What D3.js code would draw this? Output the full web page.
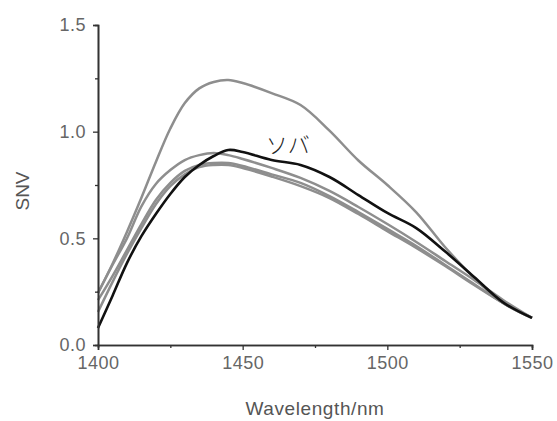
<!DOCTYPE html>
<html>
<head>
<meta charset="utf-8">
<script src="https://cdn.jsdelivr.net/npm/d3@7"></script>
<style>
  body { margin: 0; background: #fff; }
  svg text { font-family: "Liberation Sans", Arial, sans-serif; }
</style>
</head>
<body>
<div id="chart"></div>
<script>
var svgWidth = 557;
var svgHeight = 421;

var margin = { top: 25, right: 25, bottom: 76, left: 98 };
var width = svgWidth - margin.left - margin.right;
var height = svgHeight - margin.top - margin.bottom;

// wavelength (nm)
var wavelength = [1400, 1405, 1410, 1415, 1420, 1425, 1430, 1435, 1440, 1445, 1450,
  1460, 1470, 1480, 1490, 1500, 1510, 1520, 1530, 1540, 1550];

// SNV spectra
var grayA = [0.244, 0.38, 0.53, 0.69, 0.858, 1.015, 1.134, 1.203, 1.233, 1.242, 1.228,
  1.181, 1.125, 1.005, 0.865, 0.75, 0.622, 0.458, 0.315, 0.197, 0.127];
var grayB = [0.244, 0.375, 0.50, 0.65, 0.755, 0.82, 0.867, 0.89, 0.90, 0.89, 0.872,
  0.83, 0.783, 0.722, 0.647, 0.567, 0.483, 0.394, 0.305, 0.211, 0.127];
var grayC = [0.21, 0.323, 0.445, 0.567, 0.68, 0.76, 0.816, 0.844, 0.853, 0.853, 0.839,
  0.80, 0.76, 0.698, 0.623, 0.544, 0.464, 0.375, 0.286, 0.197, 0.127];
var grayD = [0.155, 0.295, 0.427, 0.548, 0.66, 0.745, 0.80, 0.834, 0.844, 0.844, 0.83,
  0.79, 0.745, 0.689, 0.614, 0.534, 0.455, 0.37, 0.281, 0.197, 0.127];
var soba = [0.08, 0.23, 0.384, 0.51, 0.614, 0.708, 0.7875, 0.844, 0.886, 0.914, 0.905,
  0.867, 0.844, 0.7875, 0.703, 0.619, 0.548, 0.438, 0.319, 0.2, 0.127];

var xTicks = [1400, 1450, 1500, 1550];
var xMinor = [1425, 1475, 1525];
var yTicks = [0, 0.5, 1.0, 1.5];
var yMinor = [0.25, 0.75, 1.25];

var svg = d3.select("#chart")
  .append("svg")
  .attr("width", svgWidth)
  .attr("height", svgHeight);

var chartGroup = svg.append("g")
  .attr("transform", `translate(${margin.left}, ${margin.top})`);

var xScale = d3.scaleLinear().domain([1400, 1550]).range([0, width]);
var yScale = d3.scaleLinear().domain([0, 1.5]).range([height, 0]);

var line = d3.line()
  .x((d, i) => xScale(wavelength[i]))
  .y(d => yScale(d))
  .curve(d3.curveCatmullRom);

[grayA, grayB, grayC, grayD].forEach(function(s) {
  chartGroup.append("path")
    .attr("d", line(s))
    .attr("fill", "none")
    .attr("stroke", "#8e8e8e")
    .attr("stroke-width", 2.5);
});

chartGroup.append("path")
  .attr("d", line(soba))
  .attr("fill", "none")
  .attr("stroke", "#111")
  .attr("stroke-width", 2.6);

// axes
var bottomAxis = d3.axisBottom(xScale).tickValues(xTicks).tickSize(5).tickPadding(6).tickFormat(d3.format("d"));
var leftAxis = d3.axisLeft(yScale).tickValues(yTicks).tickSize(5).tickPadding(7).tickFormat(d3.format(".1f"));

chartGroup.append("g").attr("transform", `translate(0, ${height})`).call(bottomAxis);
chartGroup.append("g").call(leftAxis);

chartGroup.append("g").attr("transform", `translate(0, ${height})`)
  .call(d3.axisBottom(xScale).tickValues(xMinor).tickSize(3).tickFormat(""));
chartGroup.append("g")
  .call(d3.axisLeft(yScale).tickValues(yMinor).tickSize(3).tickFormat(""));

chartGroup.selectAll(".domain").attr("stroke", "#333").attr("stroke-width", 1.6);
chartGroup.selectAll(".tick line").attr("stroke", "#333").attr("stroke-width", 1.3);
chartGroup.selectAll(".tick text")
  .attr("fill", "#666")
  .style("font-size", "18px")
  .style("letter-spacing", "0.5px")
  .style("font-family", "Liberation Sans, Arial, sans-serif");

// labels
chartGroup.append("text")
  .attr("x", width / 2)
  .attr("y", height + 70)
  .attr("text-anchor", "middle")
  .attr("fill", "#555")
  .style("font-size", "19px")
  .style("letter-spacing", "0.6px")
  .text("Wavelength/nm");

chartGroup.append("text")
  .attr("transform", `translate(-69, 166)rotate(-90)`)
  .attr("text-anchor", "middle")
  .attr("fill", "#555")
  .style("font-size", "19px")
  .text("SNV");

chartGroup.append("text")
  .attr("x", xScale(1458))
  .attr("y", yScale(0.9))
  .attr("fill", "#222")
  .style("font-size", "22px")
  .style("font-family", "Noto Sans CJK JP, sans-serif")
  .style("font-weight", "300")
  .text("ソバ");
</script>
</body>
</html>
